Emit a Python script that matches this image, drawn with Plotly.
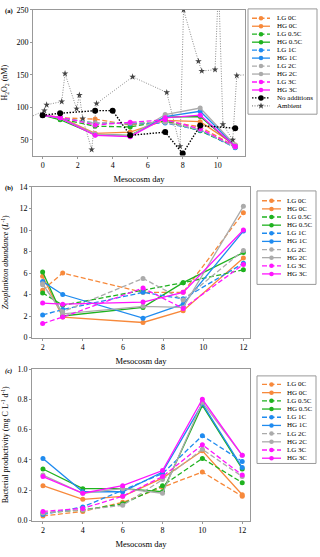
import plotly.graph_objects as go

W, H = 320, 557
FONT = "Liberation Serif"

# ---- data ----
names = ["LG 0C", "HG 0C", "LG 0.5C", "HG 0.5C", "LG 1C",
         "HG 1C", "LG 2C", "HG 2C", "LG 3C", "HG 3C"]
colors = ["#F7893B", "#F7893B", "#1FB21F", "#1FB21F", "#1F8BEF",
          "#1F8BEF", "#ABABAB", "#ABABAB", "#FF14FF", "#FF14FF"]
dashed = [n.startswith("LG") for n in names]

# (a) H2O2
days_a = [0, 1, 3, 5, 7, 9, 11]
h2o2 = {
    "LG 0C":   [88, 84, 82, 73, 79, 70, 40],
    "HG 0C":   [88, 85, 60, 62, 80, 78, 42],
    "LG 0.5C": [88, 82, 71, 70, 79, 64, 39],
    "HG 0.5C": [88, 81, 58, 57, 85, 86, 40],
    "LG 1C":   [88, 84, 76, 75, 76, 65, 38],
    "HG 1C":   [88, 84, 58, 56, 86, 94, 41],
    "LG 2C":   [88, 84, 76, 76, 77, 66, 39],
    "HG 2C":   [88, 84, 59, 56, 89, 99, 42],
    "LG 3C":   [88, 85, 73, 77, 81, 67, 40],
    "HG 3C":   [88, 84, 57, 55, 84, 88, 40],
}
noadd_days = [0, 1, 3, 4, 5, 7, 8, 9, 11]
noadd_vals = [88, 91, 95, 95, 57, 62, 29, 72, 68]
amb_days = [-0.8, 0.1, 0.23, 1.09, 1.28, 1.94, 2.1, 2.29, 2.8, 3.08, 5.14,
            7.09, 7.85, 8.05, 8.9, 9.09, 9.85, 10.05, 10.3, 10.86, 11.09, 11.9]
amb_vals = [84, 95, 104, 109, 152, 98, 119, 83, 35, 106, 147,
            123, 40, 250, 171, 156, 158, 290, 74, 50, 149, 151]

# (b) zooplankton
days_b = [2, 3, 7, 9, 12]
zoo = {
    "LG 0C":   [4.4, 6.0, 4.2, 4.2, 11.6],
    "HG 0C":   [5.7, 1.9, 1.4, 2.5, 7.4],
    "LG 0.5C": [4.15, 3.0, 4.4, 5.1, 6.3],
    "HG 0.5C": [6.1, 2.0, 2.8, 5.1, 7.9],
    "LG 1C":   [2.1, 2.6, 4.2, 3.6, 6.9],
    "HG 1C":   [5.2, 4.0, 1.8, 3.1, 9.9],
    "LG 2C":   [4.9, 2.4, 5.5, 3.5, 8.1],
    "HG 2C":   [5.0, 2.2, 2.9, 2.8, 12.2],
    "LG 3C":   [1.3, 1.9, 4.6, 2.7, 6.8],
    "HG 3C":   [3.2, 3.1, 3.3, 4.2, 10.0],
}

# (c) bacterial productivity
days_c = [2, 4, 6, 8, 10, 12]
bp = {
    "LG 0C":   [0.03, 0.06, 0.12, 0.22, 0.32, 0.16],
    "HG 0C":   [0.23, 0.14, 0.16, 0.28, 0.46, 0.17],
    "LG 0.5C": [0.05, 0.07, 0.11, 0.23, 0.41, 0.25],
    "HG 0.5C": [0.34, 0.21, 0.21, 0.19, 0.76, 0.34],
    "LG 1C":   [0.04, 0.09, 0.20, 0.31, 0.56, 0.39],
    "HG 1C":   [0.41, 0.19, 0.19, 0.32, 0.77, 0.35],
    "LG 2C":   [0.05, 0.07, 0.10, 0.27, 0.47, 0.29],
    "HG 2C":   [0.30, 0.18, 0.21, 0.18, 0.78, 0.43],
    "LG 3C":   [0.06, 0.08, 0.16, 0.29, 0.50, 0.30],
    "HG 3C":   [0.29, 0.18, 0.23, 0.33, 0.80, 0.43],
}

AMB_LINE, AMB_MARK = "#8a8a8a", "#444444"
NOADD_DASH, AMB_DASH = "1.5px,1.5px", "1px,1.5px"
LG_DASH = "5px,2.5px"


def px(x):
    return x / W


def py(y):
    return 1 - y / H


fig = go.Figure()

panels = [("", days_a, h2o2), ("2", days_b, zoo), ("3", days_c, bp)]
for ax, days, table in panels:
    for n, c, d in zip(names, colors, dashed):
        fig.add_trace(go.Scatter(
            x=days, y=table[n], xaxis="x" + ax, yaxis="y" + ax,
            mode="lines+markers", name=n, showlegend=False,
            line=dict(color=c, width=1.3, dash=LG_DASH if d else "solid"),
            marker=dict(color=c, size=5),
        ))

fig.add_trace(go.Scatter(
    x=amb_days, y=amb_vals, mode="lines+markers", showlegend=False,
    line=dict(color=AMB_LINE, width=1, dash=AMB_DASH),
    marker=dict(symbol="star", size=5, color=AMB_MARK),
))
fig.add_trace(go.Scatter(
    x=noadd_days, y=noadd_vals, mode="lines+markers", showlegend=False,
    line=dict(color="black", width=1.4, dash=NOADD_DASH),
    marker=dict(size=6, color="black"),
))

# ---- legends (samples drawn on a hidden pixel axis, text in paper coords) ----
style = [(n, c, LG_DASH if d else "solid", "circle", c, 4.5)
         for n, c, d in zip(names, colors, dashed)]
legend_a = style + [("No additions", "black", NOADD_DASH, "circle", "black", 5.5),
                    ("Ambient", AMB_LINE, AMB_DASH, "star", AMB_MARK, 5)]


def draw_legend(box, lx0, lx1, tx, y0, step, entries):
    fig.add_shape(type="rect", xref="paper", yref="paper",
                  x0=px(box[0]), x1=px(box[1]), y0=py(box[3]), y1=py(box[2]),
                  line=dict(color="#999", width=1))
    for i, (n, lc, dash, sym, mc, ms) in enumerate(entries):
        y = y0 + i * step
        fig.add_trace(go.Scatter(
            x=[lx0, lx1], y=[y, y], xaxis="x4", yaxis="y4", mode="lines",
            showlegend=False, line=dict(color=lc, width=1.3, dash=dash)))
        fig.add_trace(go.Scatter(
            x=[(lx0 + lx1) / 2], y=[y], xaxis="x4", yaxis="y4", mode="markers",
            showlegend=False, marker=dict(symbol=sym, size=ms, color=mc)))
        fig.add_annotation(x=px(tx), y=py(y), xref="paper", yref="paper", text=n,
                           showarrow=False, xanchor="left", yanchor="middle",
                           font=dict(family=FONT, size=7, color="black"))


draw_legend((248, 317, 5, 112), 252, 270, 275, 14.5, 8.1, legend_a)
draw_legend((257, 316, 190, 285), 262, 281, 285, 200, 8.26, style)
draw_legend((257, 316, 378, 467), 262, 281, 285, 386.7, 8.33, style)

tick_font = dict(family=FONT, size=8, color="black")
title_font = dict(family=FONT, size=8.5, color="black")


def xax(domain, rng, anchor):
    return dict(domain=domain, range=rng, anchor=anchor, dtick=2, tick0=0,
                showgrid=False, zeroline=False, showline=True, mirror=True,
                linecolor="#999", linewidth=1, ticks="outside", ticklen=2,
                tickcolor="#999", tickfont=tick_font,
                title=dict(text="Mesocosm day", font=title_font, standoff=6))


def yax(domain, rng, anchor, dtick, title, fmt=None):
    d = dict(domain=domain, range=rng, anchor=anchor, dtick=dtick,
             showgrid=False, zeroline=False, showline=True, mirror=True,
             linecolor="#999", linewidth=1, ticks="outside", ticklen=2,
             tickcolor="#999", tickfont=tick_font,
             title=dict(text=title, font=dict(family=FONT, size=8, color="black"), standoff=10))
    if fmt:
        d["tickformat"] = fmt
    return d


fig.update_layout(
    width=W, height=H, margin=dict(l=0, r=0, t=0, b=0),
    plot_bgcolor="rgba(0,0,0,0)", paper_bgcolor="white",
    font=dict(family=FONT, color="black"),
    xaxis=xax([px(33), px(245)], [-0.55, 11.56], "y"),
    yaxis=yax([py(154), py(6)], [26, 250], "x", 50, "H<sub>2</sub>O<sub>2</sub> (nM)"),
    xaxis2=xax([px(32), px(250)], [1.47, 12.33], "y2"),
    yaxis2=yax([py(339), py(186)], [0, 14], "x2", 2,
               "<i>Zooplankton abundance</i> (<i>L</i><sup>-1</sup>)"),
    xaxis3=xax([px(32), px(250)], [1.45, 12.39], "y3"),
    yaxis3=yax([py(525), py(371)], [0, 1], "x3", 0.2,
               "Bacterial productivity (mg C L<sup>-1</sup> d<sup>-1</sup>)", ".1f"),
    xaxis4=dict(domain=[0, 1], range=[0, W], visible=False, anchor="y4", fixedrange=True),
    yaxis4=dict(domain=[0, 1], range=[H, 0], visible=False, anchor="x4", fixedrange=True),
)

for lab, y in [("(a)", 7), ("(b)", 187), ("<i>(c)</i>", 373)]:
    fig.add_annotation(x=px(3), y=py(y), xref="paper", yref="paper", text="<b>" + lab + "</b>",
                       showarrow=False, xanchor="left", yanchor="middle",
                       font=dict(family=FONT, size=6.5, color="black"))

fig.write_html("out.html", config={"displayModeBar": False},
               post_script="document.body.style.margin='0';")
